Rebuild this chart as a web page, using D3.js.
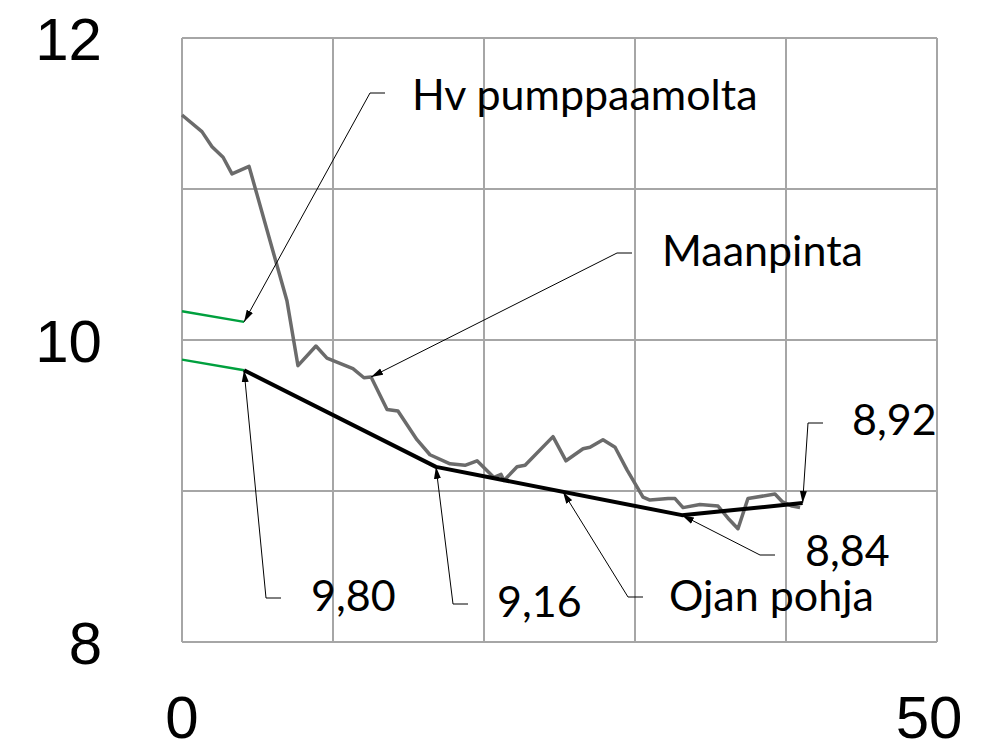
<!DOCTYPE html>
<html lang="fi">

<head>
    <meta charset="UTF-8">
    <title>Ojan pituusleikkaus</title>
    <style>
        body {
            margin: 0;
            background: #fff;
        }

        .axis-label {
            font: 60px "Liberation Sans", Arial, sans-serif;
            fill: #000;
        }

        .note {
            font: 43px Lato, "Open Sans", sans-serif;
            fill: #000;
        }

        .title {
            font: italic bold 40px "Liberation Sans", Arial, sans-serif;
            fill: #000;
        }
    </style>
</head>

<body>
    <svg width="1004" height="754"></svg>
    <script src="https://d3js.org/d3.v7.min.js"></script>
    <script>
        // maanpinta (ground profile)
        let groundX = [0, 1.32, 1.99, 2.72, 3.31, 4.44, 6.95, 7.68, 8.87, 9.60, 11.32, 12.05, 12.52,
            13.58, 14.30, 15.56, 16.42, 17.75, 18.74, 19.54, 20.66, 21.13, 21.32, 22.19, 22.72,
            24.57, 25.43, 26.56, 27.02, 27.88, 28.68, 29.47, 30.53, 30.99, 32.19, 32.65, 33.18,
            34.30, 35.50, 36.16, 36.82, 37.48, 39.27, 39.74, 40.40, 40.93];
        let groundY = [11.49, 11.38, 11.28, 11.21, 11.10, 11.15, 10.26, 9.83, 9.96, 9.88, 9.81, 9.75, 9.755,
            9.54, 9.53, 9.34, 9.24, 9.18, 9.17, 9.20, 9.09, 9.11, 9.07, 9.16, 9.17,
            9.36, 9.20, 9.28, 9.29, 9.34, 9.29, 9.14, 8.96, 8.94, 8.95, 8.95, 8.89,
            8.91, 8.90, 8.82, 8.75, 8.95, 8.98, 8.93, 8.90, 8.89];

        // ojan pohja (ditch bottom)
        let bottomX = [4.11, 16.82, 33.11, 41.1];
        let bottomY = [9.80, 9.16, 8.84, 8.92];

        // green lead-ins
        let hvX = [0, 4.11];
        let hvY = [10.19, 10.12];
        let leadY = [9.87, 9.80];

        let yTicks = [12, 10, 8];
        let xTicks = [0, 50];

        let svg = d3.select("svg");

        let x = d3.scaleLinear().domain([0, 50]).range([182, 937]);
        let y = d3.scaleLinear().domain([8, 12]).range([642, 38]);

        let pts = (xs, ys) => xs.map((d, i) => [d, ys[i]]);
        let line = d3.line().x(d => x(d[0])).y(d => y(d[1]));

        // title, mostly above the visible area
        svg.append("text")
            .attr("class", "title")
            .attr("x", 640)
            .attr("y", 0)
            .attr("text-anchor", "middle")
            .text("Pituusleikkaus");

        // grid
        let grid = svg.append("g")
            .attr("stroke", "#a6a6a6")
            .attr("stroke-width", 2)
            .attr("fill", "none");

        grid.selectAll(".v")
            .data(d3.range(0, 51, 10))
            .join("line")
            .attr("x1", d => x(d)).attr("x2", d => x(d))
            .attr("y1", y(12)).attr("y2", y(8));

        grid.selectAll(".h")
            .data(d3.range(8, 12.1, 1))
            .join("line")
            .attr("y1", d => y(d)).attr("y2", d => y(d))
            .attr("x1", x(0)).attr("x2", x(50));

        // axis labels
        svg.selectAll(".ylab")
            .data(yTicks)
            .join("text")
            .attr("class", "axis-label")
            .attr("x", 102)
            .attr("y", d => y(d) + 22)
            .attr("text-anchor", "end")
            .text(d => d);

        svg.selectAll(".xlab")
            .data(xTicks)
            .join("text")
            .attr("class", "axis-label")
            .attr("x", d => x(d) - (d === 50 ? 8 : 0))
            .attr("y", 738)
            .attr("text-anchor", "middle")
            .text(d => d);

        // lines
        svg.append("path")
            .attr("d", line(pts(hvX, hvY)))
            .attr("fill", "none")
            .attr("stroke", "#00a03e")
            .attr("stroke-width", 2.5);

        svg.append("path")
            .attr("d", line(pts(hvX, leadY)))
            .attr("fill", "none")
            .attr("stroke", "#00a03e")
            .attr("stroke-width", 2.5);

        svg.append("path")
            .attr("d", line(pts(groundX, groundY)))
            .attr("fill", "none")
            .attr("stroke", "#6b6b6b")
            .attr("stroke-width", 3.5)
            .attr("stroke-linejoin", "round");

        svg.append("path")
            .attr("d", line(pts(bottomX, bottomY)))
            .attr("fill", "none")
            .attr("stroke", "#000")
            .attr("stroke-width", 4)
            .attr("stroke-linejoin", "round");

        // arrow marker
        svg.append("defs").append("marker")
            .attr("id", "arrow")
            .attr("markerUnits", "userSpaceOnUse")
            .attr("viewBox", "0 -4 12 8")
            .attr("refX", 12)
            .attr("refY", 0)
            .attr("markerWidth", 12)
            .attr("markerHeight", 8)
            .attr("orient", "auto")
            .append("path")
            .attr("d", "M0,-3.5L12,0L0,3.5Z")
            .attr("fill", "#000");

        // point on the ditch line for the "Ojan pohja" callout
        let midX = 25.23;
        let midY = d3.scaleLinear().domain([bottomX[1], bottomX[2]]).range([bottomY[1], bottomY[2]])(midX);

        // callouts: text position, elbow (pixels), tip (data)
        let notes = [
            { label: "Hv pumppaamolta", tx: 412, ty: 110, ex: 370, ey: 93, tip: [hvX[1], hvY[1]] },
            { label: "Maanpinta", tx: 662, ty: 266, ex: 617, ey: 253, tip: [groundX[12], groundY[12]] },
            { label: "8,92", tx: 852, ty: 435, ex: 808, ey: 423, tip: [bottomX[3], bottomY[3]] },
            { label: "8,84", tx: 805, ty: 566, ex: 760, ey: 555, tip: [bottomX[2], bottomY[2]] },
            { label: "9,80", tx: 311, ty: 611, ex: 266, ey: 598, tip: [bottomX[0], bottomY[0]] },
            { label: "9,16", tx: 497, ty: 617, ex: 453, ey: 604, tip: [bottomX[1], bottomY[1]] },
            { label: "Ojan pohja", tx: 669, ty: 611, ex: 628, ey: 597, tip: [midX, midY] }
        ];

        let ng = svg.append("g");

        ng.selectAll(".tick")
            .data(notes)
            .join("line")
            .attr("x1", d => d.ex).attr("x2", d => d.ex + 15)
            .attr("y1", d => d.ey).attr("y2", d => d.ey)
            .attr("stroke", "#000")
            .attr("stroke-width", 1);

        ng.selectAll(".leader")
            .data(notes)
            .join("line")
            .attr("x1", d => d.ex).attr("y1", d => d.ey)
            .attr("x2", d => x(d.tip[0])).attr("y2", d => y(d.tip[1]))
            .attr("stroke", "#000")
            .attr("stroke-width", 1)
            .attr("marker-end", "url(#arrow)");

        ng.selectAll("text")
            .data(notes)
            .join("text")
            .attr("class", "note")
            .attr("x", d => d.tx)
            .attr("y", d => d.ty)
            .text(d => d.label);
    </script>

</body>

</html>
